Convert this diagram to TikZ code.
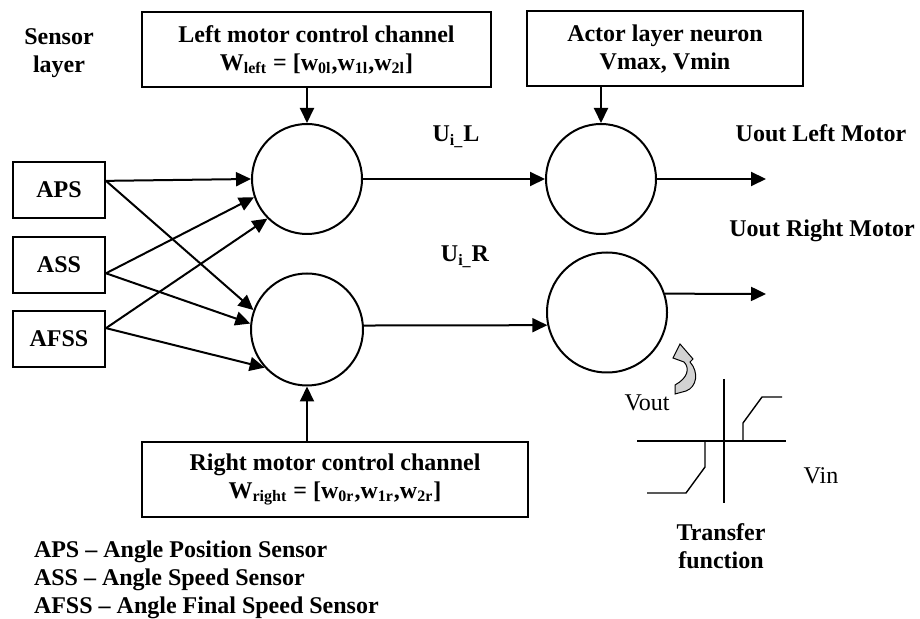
\documentclass[tikz,border=0pt]{standalone}
\usepackage{fontspec}
\setmainfont{Liberation Serif}
\usetikzlibrary{arrows.meta,positioning}

\begin{document}
\begin{tikzpicture}[
    x=0.5pt, y=-0.5pt,
    font=\bfseries\fontsize{12}{14}\selectfont,
    line width=1pt,
    >={Triangle[length=7.5pt, width=7pt]},
    box/.style={draw, inner sep=0pt, align=center},
    sens/.style={box, minimum width=46pt, minimum height=28pt},
    chan/.style={box, minimum height=37.5pt},
    nrn/.style={circle, draw, inner sep=0pt},
    lbl/.style={inner sep=0pt, anchor=base},
    plain/.style={lbl, font=\mdseries\fontsize{12}{14}\selectfont},
    tf/.style={line width=0.7pt},
  ]
  \useasboundingbox (0,0) rectangle (920,619);

  % sensor layer
  \node[inner sep=0pt, align=center] (senslbl) at (59,53) {Sensor\\layer};
  \foreach \nm/\txt/\yy in {aps/APS/190, ass/ASS/265, afss/AFSS/339} {
    \node[sens] (\nm) at (59,\yy) {\txt};
  }

  % channel and actor boxes
  \node[chan, minimum width=174.5pt] (leftbox) at (316.5,49.5)
    {Left motor control channel\\W\textsubscript{left} = [w\textsubscript{0l},w\textsubscript{1l},w\textsubscript{2l}]};
  \node[chan, minimum width=138pt] (actorbox) at (665,49) {Actor layer neuron\\Vmax, Vmin};
  \node[chan, minimum width=193pt] (rightbox) at (335,479.5)
    {Right motor control channel\\W\textsubscript{right} = [w\textsubscript{0r},w\textsubscript{1r},w\textsubscript{2r}]};

  % neurons
  \node[nrn, minimum size=55pt] (L1) at (307,179) {};
  \node[nrn, minimum size=56pt] (L2) at (307,329.5) {};
  \node[nrn, minimum size=55pt] (A1) at (601,179) {};
  \node[nrn, minimum size=60pt] (A2) at (607,312.5) {};
  \coordinate (outL) at (766,179);
  \coordinate (outR) at (766,294);

  % sensor connections
  \draw[->] (aps.11) -- (L1.180);
  \draw[->] (aps.11) -- (L2.160);
  \draw[->] (ass.-10) -- (L1.199);
  \draw[->] (ass.-10) -- (L2.174);
  \draw[->] (afss.13) -- (L1.225);
  \draw[->] (afss.13) -- (L2.222);

  % weights and limits
  \draw[->] (leftbox.south -| L1) -- (L1.north);
  \draw[->] (rightbox.north -| L2) -- (L2.south);
  \draw[->] (actorbox.south -| A1) -- (A1.north);

  % to actor layer and out
  \draw[->] (L1.east) -- (A1.west);
  \draw[->] (L2.4) -- (A2.192);
  \draw[->] (A1.east) -- (outL);
  \draw[->] (A2.18) -- (outR);

  \node[lbl] (uil) at (456,142) {U\textsubscript{i\_}L};
  \node[lbl] (uir) at (465,262) {U\textsubscript{i\_}R};
  \node[lbl] (uoutl) at (821,142) {Uout Left Motor};
  \node[lbl] (uoutr) at (822,237) {Uout Right Motor};

  % transfer function
  \filldraw[fill=gray!35, line width=0.5pt] (675,394) -- (675,385)
    .. controls (688,378) and (690,368) .. (684,362) -- (673,358) -- (680,344)
    -- (693,359) -- (690,362) .. controls (699,372) and (697,387) .. (686,391) -- cycle;
  \node[plain] (vout) at (647,411) {Vout};
  \draw[tf] (724,379) -- (724,503);
  \draw[tf] (637,441) -- (786,441);
  \draw[tf] (743,441) -- (743,423) -- (762,397) -- (782,397);
  \draw[tf] (705,441) -- (705,467) -- (686,493) -- (647,493);
  \node[plain] (vin) at (821,484) {Vin};
  \node[inner sep=0pt, align=center] (tflbl) at (721,546) {Transfer\\function};

  % legend
  \node[inner sep=0pt, align=left, anchor=base west] (legend) at (33,613)
    {APS -- Angle Position Sensor\\ASS -- Angle Speed Sensor\\AFSS -- Angle Final Speed Sensor};

\end{tikzpicture}
\end{document}
